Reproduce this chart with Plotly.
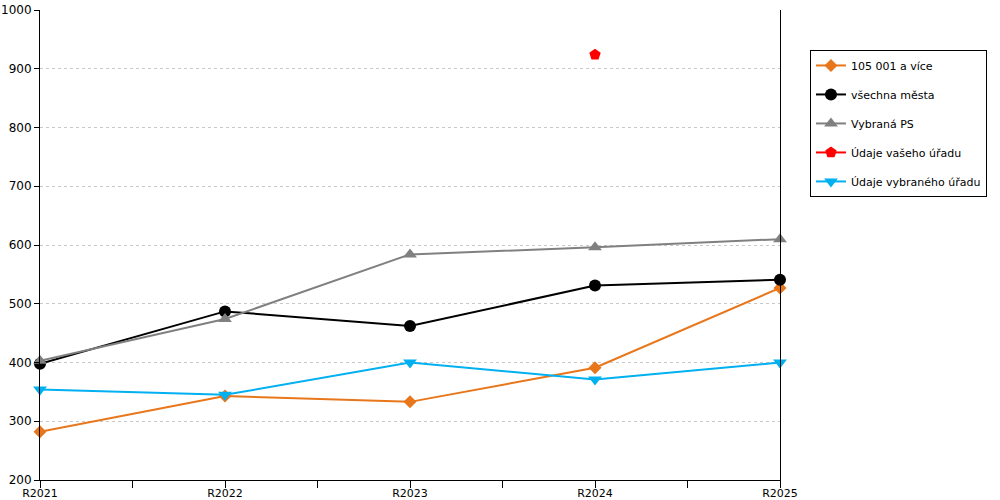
import plotly.graph_objects as go

# data
roky = ['R2021', 'R2022', 'R2023', 'R2024', 'R2025']
nad_105001 = [282, 343, 333, 391, 527]
vsechna_mesta = [398, 487, 462, 531, 541]
vybrana_ps = [403, 474, 584, 596, 610]
vas_urad = [None, None, None, 924, None]
vybrany_urad = [354, 345, 400, 371, 400]

x = list(range(len(roky)))

# (name, values, color, symbol, size)
serie = [
    ('105 001 a více', nad_105001, '#E8761A', 'diamond', 10),
    ('všechna města', vsechna_mesta, '#000000', 'circle', 12),
    ('Vybraná PS', vybrana_ps, '#808080', 'triangle-up', 12),
    ('Údaje vašeho úřadu', vas_urad, '#FF0000', 'pentagon', 12),
    ('Údaje vybraného úřadu', vybrany_urad, '#00B0F0', 'triangle-down', 12),
]

fig = go.Figure()
for name, vals, color, symbol, size in serie:
    fig.add_trace(go.Scatter(
        x=x, y=vals, name=name, mode='lines+markers',
        line=dict(color=color, width=2),
        marker=dict(color=color, symbol=symbol, size=size),
        legendgroup=name, cliponaxis=False,
    ))

# tick labels at every category, empty ticks in between
tickvals = []
ticktext = []
for i, r in enumerate(roky):
    tickvals.append(i)
    ticktext.append(r)
    if i < len(roky) - 1:
        tickvals.append(i + 0.5)
        ticktext.append('')

fig.update_layout(
    width=1000, height=500,
    margin=dict(l=40, r=220, t=10, b=20, autoexpand=False),
    plot_bgcolor='white', paper_bgcolor='white',
    font=dict(family='DejaVu Sans', size=11, color='#000000'),
    showlegend=True,
    legend=dict(
        x=1.0405, y=0.915, xanchor='left', yanchor='top',
        bordercolor='#000000', borderwidth=1,
        font=dict(size=11), tracegroupgap=10,
    ),
    xaxis=dict(
        range=[0, len(roky) - 1], tickvals=tickvals, ticktext=ticktext,
        showgrid=False, zeroline=False, automargin=False,
        showline=True, linecolor='#000000', linewidth=1,
        ticks='outside', ticklen=7, tickcolor='#000000',
        ticklabelstandoff=-4, ticklabeloverflow='allow',
    ),
    yaxis=dict(
        range=[200, 1000], dtick=100, automargin=False,
        showgrid=True, gridcolor='#C8C8C8', griddash='dot', gridwidth=1,
        zeroline=False, ticklabeloverflow='allow',
        showline=True, linecolor='#000000', linewidth=1, mirror=True,
        ticks='outside', ticklen=5, tickcolor='#000000',
        tickfont=dict(size=12),
    ),
)

# drop the default page margin so the chart fills the window
fig.write_html("out.html", config={'displayModeBar': False},
               post_script="document.body.style.margin='0px';")
